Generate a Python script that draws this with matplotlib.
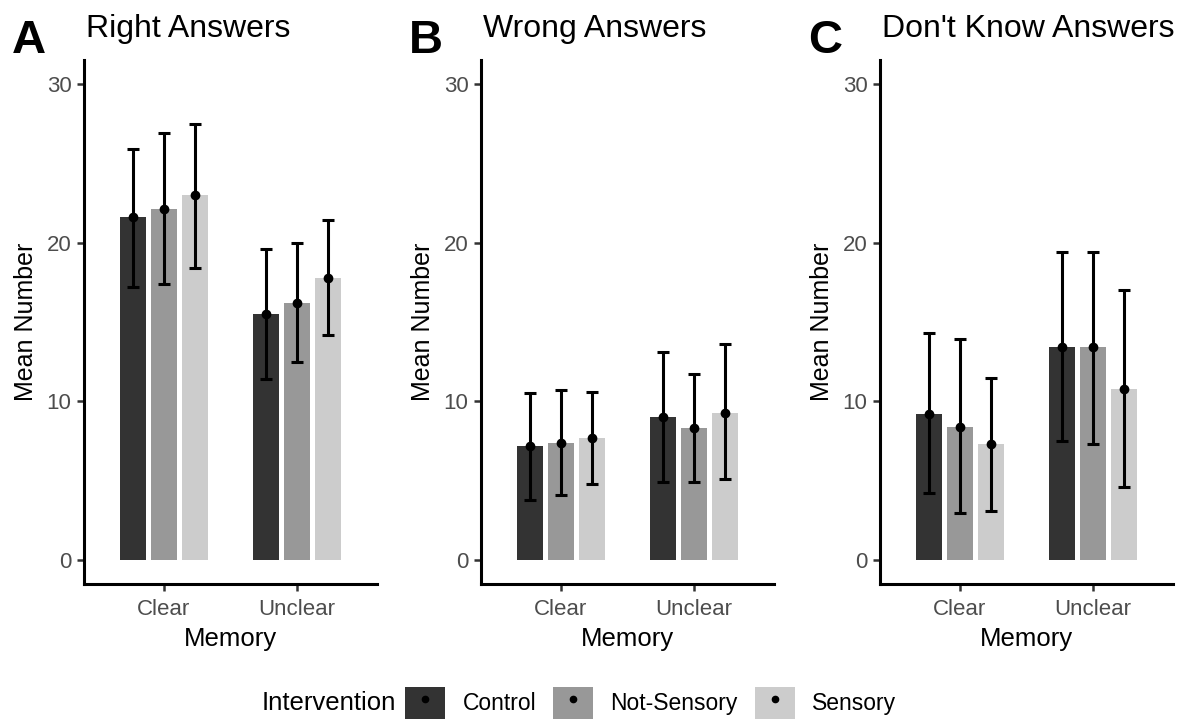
import matplotlib.pyplot as plt
from matplotlib.lines import Line2D
from matplotlib.patches import Patch
from matplotlib.legend_handler import HandlerTuple
import numpy as np

plt.rcParams['font.family'] = ['Liberation Sans', 'DejaVu Sans']

memory = ["Clear", "Unclear"]
groups = ["Control", "Not-Sensory", "Sensory"]
colors = ["#333333", "#989898", "#cccccc"]

panel_letters = ["A", "B", "C"]
panel_titles = ["Right Answers", "Wrong Answers", "Don't Know Answers"]

# means [group][memory]
right_mean = [[21.6, 15.5], [22.1, 16.2], [23.0, 17.8]]
right_low = [[17.2, 11.4], [17.4, 12.5], [18.4, 14.2]]
right_high = [[25.9, 19.6], [26.9, 20.0], [27.5, 21.4]]

wrong_mean = [[7.2, 9.0], [7.4, 8.3], [7.7, 9.3]]
wrong_low = [[3.8, 4.9], [4.1, 4.9], [4.8, 5.1]]
wrong_high = [[10.5, 13.1], [10.7, 11.7], [10.6, 13.6]]

dk_mean = [[9.2, 13.4], [8.4, 13.4], [7.3, 10.8]]
dk_low = [[4.2, 7.5], [3.0, 7.3], [3.1, 4.6]]
dk_high = [[14.3, 19.4], [13.9, 19.4], [11.5, 17.0]]

panels = [(right_mean, right_low, right_high),
          (wrong_mean, wrong_low, wrong_high),
          (dk_mean, dk_low, dk_high)]

W, H = 1189, 720
fig = plt.figure(figsize=(W / 100, H / 100), dpi=100)

lefts = [84, 481, 880]
ax_w = 293
top, bottom = 60, 584

dodge = 0.7 / 3
bar_w = 0.195
x = np.arange(len(memory)) + 1

for i, (mean, low, high) in enumerate(panels):
    ax = fig.add_axes([lefts[i] / W, 1 - bottom / H, ax_w / W, (bottom - top) / H])
    for g in range(len(groups)):
        xs = x + (g - 1) * dodge
        m = np.array(mean[g])
        lo = np.array(low[g])
        hi = np.array(high[g])
        ax.bar(xs, m, width=bar_w, color=colors[g], zorder=1)
        ax.errorbar(xs, m, yerr=[m - lo, hi - m], fmt='o', color='black',
                    markersize=6, elinewidth=2.2, capsize=4.5, capthick=2.2, zorder=2)
    ax.set_xlim(0.4, 2.6)
    ax.set_ylim(-1.5, 31.5)
    ax.set_yticks([0, 10, 20, 30])
    ax.set_xticks(x)
    ax.set_xticklabels(memory)
    for s in ["top", "right"]:
        ax.spines[s].set_visible(False)
    for s in ["left", "bottom"]:
        ax.spines[s].set_linewidth(2.2)
    ax.tick_params(axis='both', length=5, width=1.8, color='#333333',
                   labelcolor='#4d4d4d', labelsize=16, pad=4)
    ax.tick_params(axis='x', pad=6)
    ax.set_xlabel("Memory", fontsize=18.5, labelpad=5)
    ax.set_ylabel("Mean Number", fontsize=18, labelpad=6)

    fig.text((lefts[i] + 2) / W, 1 - 37 / H, panel_titles[i], fontsize=23,
             ha='left', va='baseline')
    fig.text((lefts[i] - 72) / W, 1 - 53 / H, panel_letters[i], fontsize=34,
             fontweight='bold', ha='left', va='baseline')

# legend
handles = []
for g in range(len(groups)):
    handles.append((Patch(facecolor=colors[g], edgecolor='none'),
                    Line2D([], [], marker='o', color='black', linestyle='none',
                           markersize=4.5)))
fig.text(396 / W, 1 - 703 / H, "Intervention", fontsize=18.5, ha='right', va='center')
fig.legend(handles, groups, handler_map={tuple: HandlerTuple(ndivide=1)},
           loc='center left', bbox_to_anchor=(396 / W, 1 - 703 / H), ncol=3,
           frameon=False, fontsize=16.5, handlelength=1.75, handleheight=1.75,
           handletextpad=0.75, columnspacing=0.75, borderaxespad=0)

fig.savefig("out.png", dpi=100)
